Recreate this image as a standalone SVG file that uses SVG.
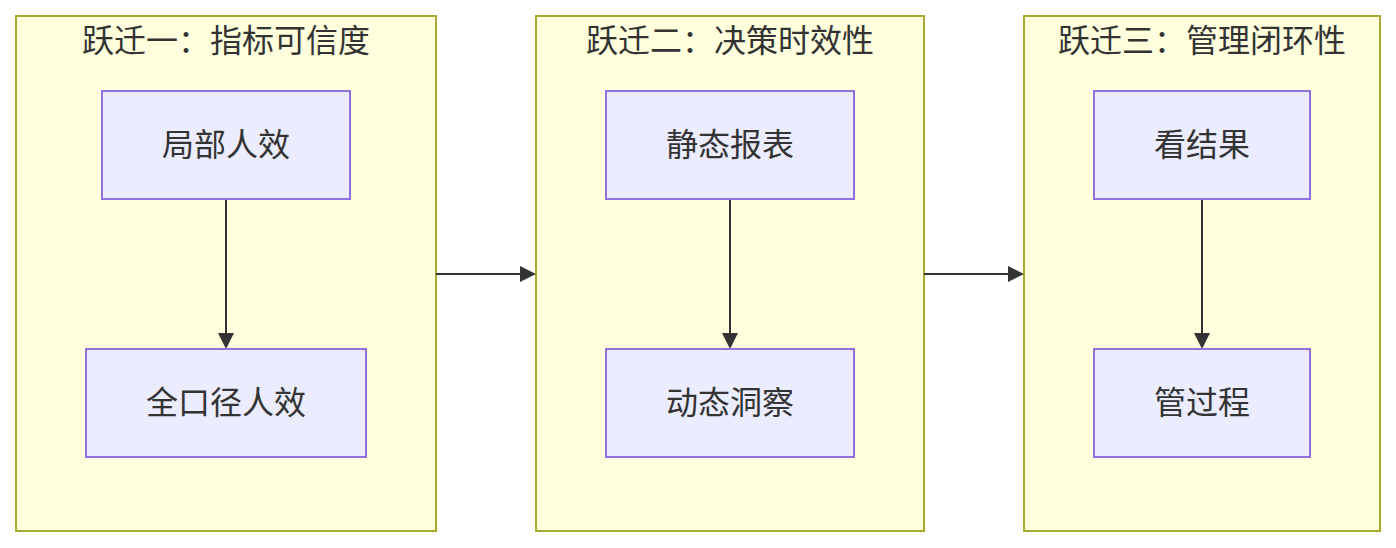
<svg xmlns="http://www.w3.org/2000/svg" width="1396" height="548" viewBox="0 0 1396 548">
<style>
.cluster rect{fill:#FFFFDE;stroke:#AAAA33;stroke-width:2}
.node rect{fill:#ECECFF;stroke:#9370DB;stroke-width:2}
text{font-family:"Noto Sans CJK SC","Noto Sans",sans-serif;font-size:32px;fill:#333333;text-anchor:middle;dominant-baseline:central}
.edge{stroke:#333333;stroke-width:2;fill:none}
.head{fill:#333333}
</style>
<g id="cluster1" class="cluster"><rect x="16" y="16" width="420" height="515"/><text x="226" y="38">跃迁一：指标可信度</text></g>
<g id="cluster2" class="cluster"><rect x="536" y="16" width="388" height="515"/><text x="730" y="38">跃迁二：决策时效性</text></g>
<g id="cluster3" class="cluster"><rect x="1024" y="16" width="356" height="515"/><text x="1202" y="38">跃迁三：管理闭环性</text></g>
<g id="connectors">
<path class="edge" d="M226,199 L226,336"/>
<path class="edge" d="M730,199 L730,336"/>
<path class="edge" d="M1202,199 L1202,336"/>
<path class="edge" d="M436,274 L522,274"/>
<path class="edge" d="M924,274 L1010,274"/>
<path class="head" d="M218,333 L234,333 L226,349 z"/>
<path class="head" d="M722,333 L738,333 L730,349 z"/>
<path class="head" d="M1194,333 L1210,333 L1202,349 z"/>
<path class="head" d="M520,266 L536,274 L520,282 z"/>
<path class="head" d="M1008,266 L1024,274 L1008,282 z"/>
</g>
<g id="n1" class="node"><rect x="102" y="91" width="248" height="108"/><text x="226" y="142">局部人效</text></g>
<g id="n2" class="node"><rect x="86" y="349" width="280" height="108"/><text x="226" y="400">全口径人效</text></g>
<g id="n3" class="node"><rect x="606" y="91" width="248" height="108"/><text x="730" y="142">静态报表</text></g>
<g id="n4" class="node"><rect x="606" y="349" width="248" height="108"/><text x="730" y="400">动态洞察</text></g>
<g id="n5" class="node"><rect x="1094" y="91" width="216" height="108"/><text x="1202" y="142">看结果</text></g>
<g id="n6" class="node"><rect x="1094" y="349" width="216" height="108"/><text x="1202" y="400">管过程</text></g>
</svg>
